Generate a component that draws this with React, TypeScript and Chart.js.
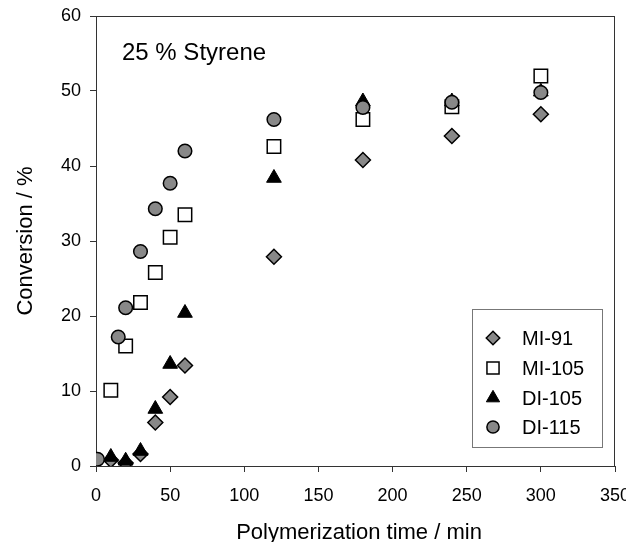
import React, { useEffect, useRef } from 'react';
import { Chart, registerables } from 'chart.js';
import { drawPoint } from 'chart.js/helpers';

Chart.register(...registerables);

const seriesNames = ['MI-91', 'MI-105', 'DI-105', 'DI-115'];
const mi91Time = [10, 20, 30, 40, 50, 60, 120, 180, 240, 300];
const mi91Conv = [0.8, 0.4, 1.6, 5.8, 9.2, 13.4, 27.9, 40.8, 44.0, 46.9];
const mi105Time = [10, 20, 30, 40, 50, 60, 120, 180, 240, 300];
const mi105Conv = [10.1, 16.0, 21.8, 25.8, 30.5, 33.5, 42.6, 46.2, 47.9, 52.0];
const di105Time = [10, 20, 30, 40, 50, 60, 120, 180, 240, 300];
const di105Conv = [1.2, 0.7, 2.0, 7.6, 13.6, 20.4, 38.4, 48.6, 48.6, 49.9];
const di115Time = [1, 15, 20, 30, 40, 50, 60, 120, 180, 240, 300];
const di115Conv = [0.9, 17.2, 21.1, 28.6, 34.3, 37.7, 42.0, 46.2, 47.8, 48.5, 49.8];

const xMin = 0, xMax = 350, xStep = 50;
const yMin = 0, yMax = 60, yStep = 10;

const chartTitle = '25 % Styrene';
const xTitle = 'Polymerization time / min';
const yTitle = 'Conversion / %';

const FONT = "'Liberation Sans', Arial, Helvetica, sans-serif";
const GRAY = '#888888';

const styles = [
  { pointStyle: 'rectRot', radius: 7.5, bg: GRAY, border: '#000', bw: 1.5 },
  { pointStyle: 'rect', radius: 9.5, bg: '#fff', border: '#000', bw: 1.5 },
  { pointStyle: 'triangle', radius: 8.5, bg: '#000', border: '#000', bw: 1 },
  { pointStyle: 'circle', radius: 6.8, bg: GRAY, border: '#000', bw: 1.5 },
];
const drawOrder = [3, 2, 1, 0];

const toPoints = (xs: number[], ys: number[]) => xs.map((x, i) => ({ x, y: ys[i] }));
const seriesData = [
  toPoints(mi91Time, mi91Conv),
  toPoints(mi105Time, mi105Conv),
  toPoints(di105Time, di105Conv),
  toPoints(di115Time, di115Conv),
];

const framePlugin = {
  id: 'frameAndText',
  beforeDatasetsDraw(chart: any) {
    const { ctx, chartArea: a } = chart;
    ctx.save();
    ctx.strokeStyle = '#333';
    ctx.lineWidth = 1;
    ctx.strokeRect(Math.round(a.left) + 0.5, Math.round(a.top) + 0.5, Math.round(a.right - a.left) - 1, Math.round(a.bottom - a.top));
    ctx.restore();
  },
  afterDraw(chart: any) {
    const { ctx } = chart;
    ctx.save();
    ctx.fillStyle = '#000';
    // chart annotation title
    ctx.font = `24px ${FONT}`;
    ctx.textAlign = 'left';
    ctx.textBaseline = 'alphabetic';
    ctx.fillText(chartTitle, 122, 60);
    // x title
    ctx.font = `22px ${FONT}`;
    ctx.textAlign = 'center';
    ctx.fillText(xTitle, 359, 539);
    // y title
    ctx.save();
    ctx.translate(32, 241);
    ctx.rotate(-Math.PI / 2);
    ctx.fillText(yTitle, 0, 0);
    ctx.restore();

    // legend
    const lx = 472, ly = 309, lw = 130, lh = 138;
    ctx.fillStyle = '#fff';
    ctx.fillRect(lx, ly, lw, lh);
    ctx.strokeStyle = '#777';
    ctx.lineWidth = 1;
    ctx.strokeRect(lx + 0.5, ly + 0.5, lw, lh);
    const rows = [338, 368, 398, 427];
    ctx.font = `20px ${FONT}`;
    ctx.textAlign = 'left';
    ctx.textBaseline = 'middle';
    seriesNames.forEach((name, i) => {
      const s = styles[i];
      ctx.fillStyle = s.bg;
      ctx.strokeStyle = s.border;
      ctx.lineWidth = s.bw;
      drawPoint(ctx, { pointStyle: s.pointStyle, radius: s.radius * 0.9, rotation: 0, borderWidth: s.bw } as any, 493, rows[i]);
      ctx.fillStyle = '#000';
      ctx.fillText(name, 522, rows[i] + 1);
    });
    ctx.restore();
  },
};

export default function App() {
  const ref = useRef<HTMLCanvasElement>(null);
  useEffect(() => {
    if (!ref.current) return;
    const chart = new Chart(ref.current, {
      type: 'scatter',
      data: {
        datasets: seriesNames.map((name, i) => ({
          label: name,
          data: seriesData[i],
          pointStyle: styles[i].pointStyle as any,
          pointRadius: styles[i].radius,
          pointHoverRadius: styles[i].radius,
          backgroundColor: styles[i].bg,
          borderColor: styles[i].border,
          borderWidth: styles[i].bw,
          showLine: false,
          order: drawOrder[i],
        })),
      },
      options: {
        animation: false,
        responsive: false,
        maintainAspectRatio: false,
        devicePixelRatio: 1,
        layout: { padding: { top: 16, right: 4, left: 0, bottom: 0 } },
        plugins: { legend: { display: false }, tooltip: { enabled: false }, title: { display: false } },
        scales: {
          x: {
            type: 'linear',
            min: xMin,
            max: xMax,
            border: { display: false },
            grid: { drawOnChartArea: false, drawTicks: true, tickLength: 6, color: '#333' },
            ticks: { stepSize: xStep, color: '#000', font: { family: FONT, size: 18 }, padding: 13, maxRotation: 0 },
            afterFit: (s: any) => { s.height = 76; s.paddingRight = 0; s.paddingLeft = 0; },
          },
          y: {
            type: 'linear',
            min: yMin,
            max: yMax,
            border: { display: false },
            grid: { drawOnChartArea: false, drawTicks: true, tickLength: 6, color: '#333' },
            ticks: { stepSize: yStep, color: '#000', font: { family: FONT, size: 18 }, padding: 9 },
            afterFit: (s: any) => { s.width = 96; s.paddingTop = 0; s.paddingBottom = 0; },
          },
        },
      },
      plugins: [framePlugin],
    });
    return () => chart.destroy();
  }, []);
  return (
    <div style={{ position: 'absolute', left: 0, top: 0, width: 626, height: 542, background: '#fff' }}>
      <canvas ref={ref} width={626} height={542} style={{ display: 'block' }} />
    </div>
  );
}
